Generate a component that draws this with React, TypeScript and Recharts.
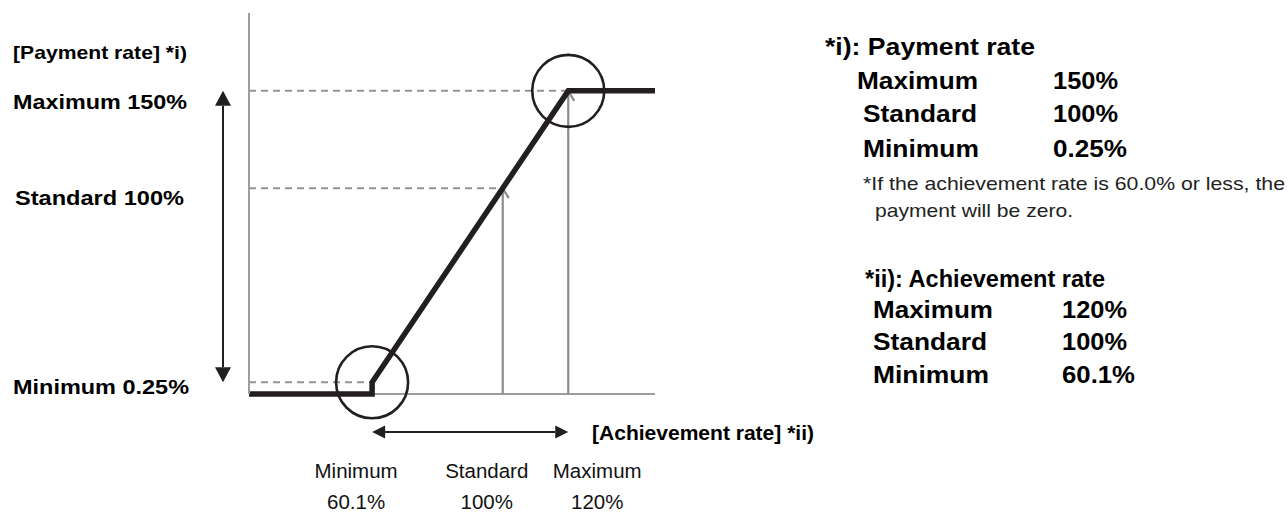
import React from "react";
import { LineChart, Line, XAxis, YAxis, ReferenceLine, ReferenceDot } from "recharts";

// ---- data ----
const achievementPoints = [22.5, 60.1, 60.1, 120, 146.5];
const paymentPoints = [0, 0, 0.25, 150, 150];
const xDomain = [22.5, 146.5];
const yDomain = [0, 190];

const xTicks = [60.1, 100, 120];
const xTickNames = ["Minimum", "Standard", "Maximum"];
const xTickValues = ["60.1%", "100%", "120%"];

const yTicks = [0.25, 100, 150];
const yTickLabels = ["Minimum 0.25%", "Standard 100%", "Maximum 150%"];

const yAxisTitle = "[Payment rate] *i)";
const xAxisTitle = "[Achievement rate] *ii)";

const paymentNoteTitle = "*i): Payment rate";
const paymentNoteNames = ["Maximum", "Standard", "Minimum"];
const paymentNoteValues = ["150%", "100%", "0.25%"];
const paymentFootnote = ["*If the achievement rate is 60.0% or less, the", "payment will be zero."];
const achievementNoteTitle = "*ii): Achievement rate";
const achievementNoteNames = ["Maximum", "Standard", "Minimum"];
const achievementNoteValues = ["120%", "100%", "60.1%"];

const curveData = achievementPoints.map((a, i) => ({ ach: a, pay: paymentPoints[i] }));

// ---- a linear scale with an exaggerated gap for the tiny minimum value (schematic) ----
function makeBreakScale(brk: number, gap: number): any {
  let dom: number[] = [0, 1];
  let rng: number[] = [0, 1];
  const warp = (v: number) => (v <= brk ? (v * gap) / brk : gap + (v - brk));
  const unwarp = (w: number) => (w <= gap ? (w * brk) / gap : brk + (w - gap));
  const s: any = (v: any) => {
    const a = warp(dom[0]);
    const b = warp(dom[dom.length - 1]);
    return rng[0] + ((warp(Number(v)) - a) / (b - a)) * (rng[rng.length - 1] - rng[0]);
  };
  s.domain = (d?: any) => {
    if (d === undefined) return dom.slice();
    dom = Array.from(d, Number);
    return s;
  };
  s.range = (r?: any) => {
    if (r === undefined) return rng.slice();
    rng = Array.from(r, Number);
    return s;
  };
  s.invert = (px: number) => {
    const a = warp(dom[0]);
    const b = warp(dom[dom.length - 1]);
    const t = (px - rng[0]) / (rng[rng.length - 1] - rng[0]);
    return unwarp(a + t * (b - a));
  };
  s.ticks = (n: number = 5) => {
    const out: number[] = [];
    const step = (dom[1] - dom[0]) / n;
    for (let i = 0; i <= n; i++) out.push(dom[0] + i * step);
    return out;
  };
  s.tickFormat = () => (v: any) => String(v);
  s.nice = () => s;
  s.clamp = () => s;
  s.copy = () => makeBreakScale(brk, gap).domain(dom).range(rng);
  return s;
}
const yScale = makeBreakScale(0.25, 6);

const INK = "#231f20";
const AXIS = "#9d9d9d";
const FONT = "Arial, 'Liberation Sans', sans-serif";

// ---- tick / label renderers ----
const yLabelShift = [12, 17, 18];
const yLabelX = [13, 15, 13];
const yLabelWidth = [176, 169, 174];
const YTick = (props: any) => {
  const { y, index } = props;
  return (
    <text
      x={yLabelX[index]}
      y={y + yLabelShift[index]}
      textAnchor="start"
      fontFamily={FONT}
      fontWeight="bold"
      fontSize={21}
      fill="#000"
      textLength={yLabelWidth[index]}
      lengthAdjust="spacingAndGlyphs"
    >
      {yTickLabels[index]}
    </text>
  );
};

const xLabelShift = [-16, -16, 29];
const XTick = (props: any) => {
  const { x, index } = props;
  const base = 394;
  const cx = x + xLabelShift[index];
  return (
    <g>
      <text x={cx} y={base + 84} textAnchor="middle" fontFamily={FONT} fontSize={20.5} fill="#111">
        {xTickNames[index]}
      </text>
      <text x={cx} y={base + 115} textAnchor="middle" fontFamily={FONT} fontSize={20.5} fill="#111">
        {xTickValues[index]}
      </text>
    </g>
  );
};

const YTitle = () => (
  <text
    x={13}
    y={59}
    fontFamily={FONT}
    fontWeight="bold"
    fontSize={19}
    fill="#000"
    textLength={174}
    lengthAdjust="spacingAndGlyphs"
  >
    {yAxisTitle}
  </text>
);

const XTitle = () => (
  <text
    x={592}
    y={440}
    fontFamily={FONT}
    fontWeight="bold"
    fontSize={20}
    fill="#000"
    textLength={222}
    lengthAdjust="spacingAndGlyphs"
  >
    {xAxisTitle}
  </text>
);

// ---- reference line shapes ----
const GuideArrow = (p: any) => {
  const x = p.x1;
  const yT = Math.min(p.y1, p.y2);
  const yB = Math.max(p.y1, p.y2);
  return (
    <g stroke="#8c8c8c" strokeWidth={2.2} fill="none">
      <line x1={x} y1={yB} x2={x} y2={yT} />
      <polyline points={`${x - 6},${yT + 10} ${x},${yT} ${x + 6},${yT + 10}`} />
    </g>
  );
};

const VerticalDoubleArrow = (p: any) => {
  const x = p.x1 - 26;
  const yT = Math.min(p.y1, p.y2);
  const yB = Math.max(p.y1, p.y2);
  const h = 15;
  const w = 8;
  return (
    <g>
      <line x1={x} y1={yT + h} x2={x} y2={yB - h} stroke={INK} strokeWidth={2} />
      <polygon points={`${x},${yT} ${x - w},${yT + h} ${x + w},${yT + h}`} fill={INK} />
      <polygon points={`${x},${yB} ${x - w},${yB - h} ${x + w},${yB - h}`} fill={INK} />
    </g>
  );
};

const HorizontalDoubleArrow = (p: any) => {
  const y = p.y1 + 38;
  const xL = Math.min(p.x1, p.x2);
  const xR = Math.max(p.x1, p.x2);
  const h = 13;
  const w = 6.5;
  return (
    <g>
      <line x1={xL + h} y1={y} x2={xR - h} y2={y} stroke={INK} strokeWidth={2} />
      <polygon points={`${xL},${y} ${xL + h},${y - w} ${xL + h},${y + w}`} fill={INK} />
      <polygon points={`${xR},${y} ${xR - h},${y - w} ${xR - h},${y + w}`} fill={INK} />
    </g>
  );
};

// ---- right-hand notes ----
const Notes = () => {
  const bold = { fontFamily: FONT, fontWeight: "bold" as const, fill: "#000" };
  const p1NameX = [857, 863, 863];
  const p1NameW = [121, 114, 116];
  const p1ValW = [65, 65, 74];
  const p1Base = [89, 122, 157];
  const p2NameW = [120, 114, 116];
  const p2ValW = [65, 65, 73];
  const p2Base = [318, 350, 383];
  return (
    <svg width={1287} height={514} style={{ position: "absolute", left: 0, top: 0 }}>
      <YTitle />
      <XTitle />
      <text x={825} y={55} fontSize={24} textLength={210} lengthAdjust="spacingAndGlyphs" {...bold}>
        {paymentNoteTitle}
      </text>
      {paymentNoteNames.map((n, i) => (
        <g key={"p" + i}>
          <text x={p1NameX[i]} y={p1Base[i]} fontSize={23} textLength={p1NameW[i]} lengthAdjust="spacingAndGlyphs" {...bold}>
            {n}
          </text>
          <text x={1053} y={p1Base[i]} fontSize={23} textLength={p1ValW[i]} lengthAdjust="spacingAndGlyphs" {...bold}>
            {paymentNoteValues[i]}
          </text>
        </g>
      ))}
      <text x={863} y={190} fontFamily={FONT} fontSize={19} fill="#222" textLength={422} lengthAdjust="spacingAndGlyphs">
        {paymentFootnote[0]}
      </text>
      <text x={875} y={217} fontFamily={FONT} fontSize={19} fill="#222" textLength={198} lengthAdjust="spacingAndGlyphs">
        {paymentFootnote[1]}
      </text>
      <text x={865} y={287} fontSize={24} textLength={240} lengthAdjust="spacingAndGlyphs" {...bold}>
        {achievementNoteTitle}
      </text>
      {achievementNoteNames.map((n, i) => (
        <g key={"a" + i}>
          <text x={873} y={p2Base[i]} fontSize={23} textLength={p2NameW[i]} lengthAdjust="spacingAndGlyphs" {...bold}>
            {n}
          </text>
          <text x={1062} y={p2Base[i]} fontSize={23} textLength={p2ValW[i]} lengthAdjust="spacingAndGlyphs" {...bold}>
            {achievementNoteValues[i]}
          </text>
        </g>
      ))}
    </svg>
  );
};

export default function App() {
  return (
    <div style={{ position: "absolute", left: 0, top: 0, width: 1287, height: 514, background: "#fff" }}>
      <LineChart
        width={1287}
        height={514}
        data={curveData}
        margin={{ top: 13, right: 632, bottom: 119, left: 248 }}
      >
        <XAxis
          dataKey="ach"
          type="number"
          domain={xDomain}
          ticks={xTicks}
          interval={0}
          height={1}
          tickSize={0}
          tickMargin={0}
          tickLine={false}
          tick={<XTick />}
          axisLine={false}
        />
        <YAxis
          type="number"
          domain={yDomain}
          scale={yScale}
          ticks={yTicks}
          interval={0}
          width={1}
          tickSize={0}
          tickMargin={0}
          tickLine={false}
          tick={<YTick />}
          axisLine={{ stroke: AXIS, strokeWidth: 2 }}
        />
        {/* visible part of the x baseline (the rest lies under the zero-payment segment) */}
        <ReferenceLine
          segment={[{ x: xTicks[0], y: 0 }, { x: xDomain[1], y: 0 }]}
          stroke={AXIS}
          strokeWidth={2}
          ifOverflow="visible"
        />
        {yTicks.map((v, i) => (
          <ReferenceLine
            key={"h" + i}
            segment={[{ x: xDomain[0], y: v }, { x: xTicks[i], y: v }]}
            stroke="#939393"
            strokeWidth={2}
            strokeDasharray="7 5"
            ifOverflow="visible"
          />
        ))}
        {xTicks.slice(1).map((v, i) => (
          <ReferenceLine
            key={"v" + i}
            segment={[{ x: v, y: 0 }, { x: v, y: yTicks[i + 1] }]}
            shape={GuideArrow}
            ifOverflow="visible"
          />
        ))}
        <ReferenceLine
          segment={[{ x: xDomain[0], y: yTicks[0] }, { x: xDomain[0], y: yTicks[2] }]}
          shape={VerticalDoubleArrow}
          ifOverflow="visible"
        />
        <ReferenceLine
          segment={[{ x: xTicks[0], y: 0 }, { x: xTicks[2], y: 0 }]}
          shape={HorizontalDoubleArrow}
          ifOverflow="visible"
        />
        <Line
          type="linear"
          dataKey="pay"
          stroke={INK}
          strokeWidth={5.5}
          strokeLinejoin="miter"
          dot={false}
          activeDot={false}
          isAnimationActive={false}
        />
        <ReferenceDot x={xTicks[0]} y={yTicks[0]} r={36} fill="none" stroke={INK} strokeWidth={2.6} ifOverflow="visible" />
        <ReferenceDot x={xTicks[2]} y={yTicks[2]} r={36} fill="none" stroke={INK} strokeWidth={2.6} ifOverflow="visible" />
      </LineChart>
      <Notes />
    </div>
  );
}
